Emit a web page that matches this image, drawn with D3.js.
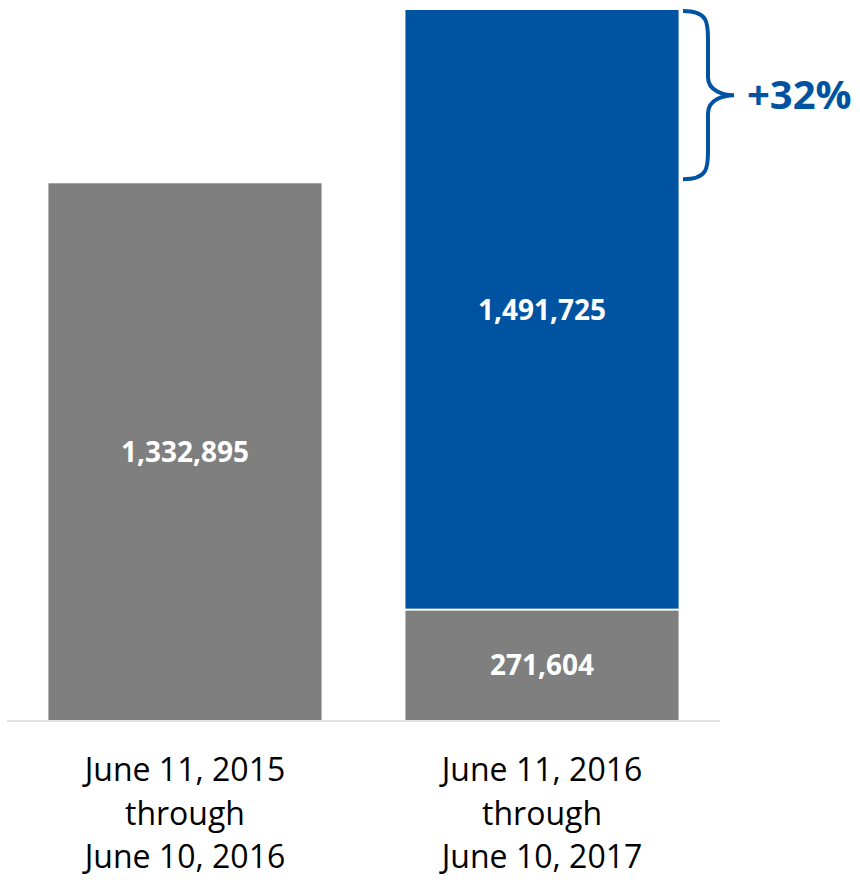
<!DOCTYPE html>
<html lang="en">
<head>
    <meta charset="UTF-8">
    <title>Bar chart</title>
    <script src="https://d3js.org/d3.v7.min.js"></script>
    <style>
        body {
            margin: 0;
            font-family: "Open Sans", Lato, sans-serif;
            background: #fff;
        }
    </style>
</head>
<body>
    <div id="container"></div>

    <script>
        // data
        const categories = ['June 11, 2015 through June 10, 2016', 'June 11, 2016 through June 10, 2017'];
        const tickLines = [
            ['June 11, 2015', 'through', 'June 10, 2016'],
            ['June 11, 2016', 'through', 'June 10, 2017']
        ];
        const baseValues = [1332895, 271604];   // gray
        const newValues = [0, 1491725];         // blue
        const changeLabel = '+32%';

        const width = 860, height = 880;
        const baseline = 720;

        const svg = d3.select('#container').append('svg')
            .attr('width', width)
            .attr('height', height);

        const totals = baseValues.map((v, i) => v + newValues[i]);

        const x = d3.scaleBand()
            .domain(categories)
            .range([7, 720])
            .paddingInner(0.235)
            .paddingOuter(0.116);

        const y = d3.scaleLinear()
            .domain([0, d3.max(totals)])
            .range([baseline, 10]);

        // gray bars
        svg.selectAll('.base')
            .data(categories)
            .enter()
            .append('rect')
            .attr('x', d => x(d))
            .attr('y', (d, i) => y(baseValues[i]))
            .attr('width', x.bandwidth())
            .attr('height', (d, i) => baseline - y(baseValues[i]))
            .attr('fill', '#7f7f7f');

        // blue segments
        svg.selectAll('.new')
            .data(categories.filter((d, i) => newValues[i] > 0))
            .enter()
            .append('rect')
            .attr('x', d => x(d))
            .attr('y', d => y(totals[categories.indexOf(d)]))
            .attr('width', x.bandwidth())
            .attr('height', d => {
                const i = categories.indexOf(d);
                return y(baseValues[i]) - y(totals[i]) - 2;
            })
            .attr('fill', '#0053a0');

        // baseline
        svg.append('line')
            .attr('x1', 7).attr('x2', 720)
            .attr('y1', baseline + 1).attr('y2', baseline + 1)
            .attr('stroke', '#d9d9d9')
            .attr('stroke-width', 1.5);

        const fmt = d3.format(',');

        // value labels
        svg.selectAll('.baseLabel')
            .data(categories)
            .enter()
            .append('text')
            .attr('x', d => x(d) + x.bandwidth() / 2)
            .attr('y', (d, i) => (y(baseValues[i]) + baseline) / 2)
            .attr('dy', '0.36em')
            .attr('text-anchor', 'middle')
            .attr('fill', '#fff')
            .attr('font-weight', 'bold')
            .attr('font-size', 28)
            .text((d, i) => fmt(baseValues[i]));

        svg.selectAll('.newLabel')
            .data(categories.filter((d, i) => newValues[i] > 0))
            .enter()
            .append('text')
            .attr('x', d => x(d) + x.bandwidth() / 2)
            .attr('y', d => {
                const i = categories.indexOf(d);
                return (y(baseValues[i]) + y(totals[i])) / 2;
            })
            .attr('dy', '0.36em')
            .attr('text-anchor', 'middle')
            .attr('fill', '#fff')
            .attr('font-weight', 'bold')
            .attr('font-size', 28)
            .text(d => fmt(newValues[categories.indexOf(d)]));

        // category labels
        const tick = svg.selectAll('.tick')
            .data(categories)
            .enter()
            .append('text')
            .attr('text-anchor', 'middle')
            .attr('font-size', 32)
            .attr('fill', '#000');

        tick.each(function(d, i) {
            const t = d3.select(this);
            tickLines[i].forEach((line, j) => {
                t.append('tspan')
                    .attr('x', x(d) + x.bandwidth() / 2)
                    .attr('y', 781 + j * 43.5)
                    .text(line);
            });
        });

        // brace from top of left bar level to top of right bar
        const braceTop = y(d3.max(totals)) + 1;
        const braceBottom = y(baseValues[0]) - 4;
        const mid = (braceTop + braceBottom) / 2;
        const bx = 683, vx = 708, tip = 734;
        const brace = d3.path();
        brace.moveTo(bx, braceTop);
        brace.bezierCurveTo(vx, braceTop, vx, braceTop + 12, vx, braceTop + 28);
        brace.lineTo(vx, mid - 18);
        brace.bezierCurveTo(vx, mid - 4, tip - 10, mid, tip, mid);
        brace.bezierCurveTo(tip - 10, mid, vx, mid + 4, vx, mid + 18);
        brace.lineTo(vx, braceBottom - 28);
        brace.bezierCurveTo(vx, braceBottom - 12, vx, braceBottom, bx, braceBottom);

        svg.append('path')
            .attr('d', brace.toString())
            .attr('fill', 'none')
            .attr('stroke', '#0053a0')
            .attr('stroke-width', 4);

        svg.append('text')
            .attr('x', 747)
            .attr('y', mid + 14)
            .attr('fill', '#0053a0')
            .attr('font-weight', 'bold')
            .attr('font-size', 40)
            .text(changeLabel);
    </script>
</body>
</html>
